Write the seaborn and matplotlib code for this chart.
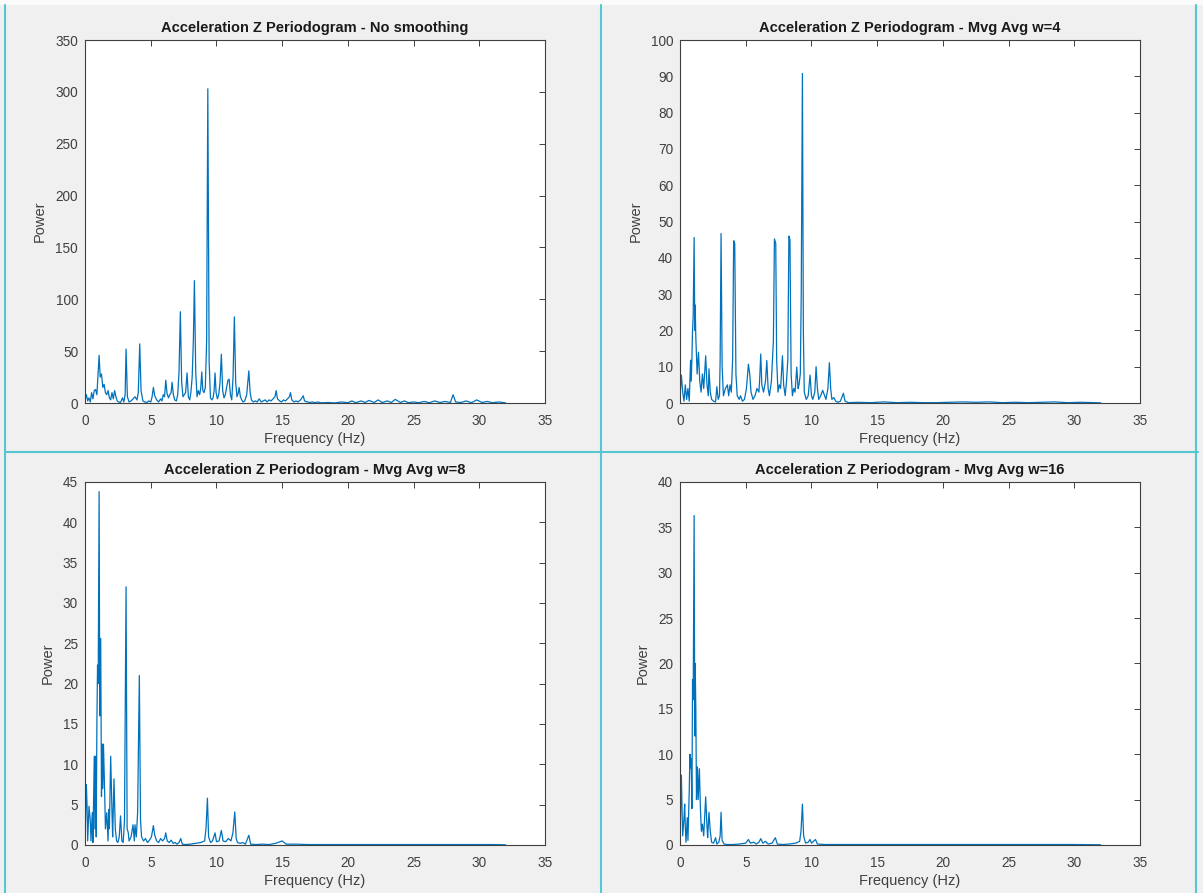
import numpy as np
import pandas as pd
import seaborn as sns
import matplotlib.pyplot as plt
from matplotlib.lines import Line2D
from matplotlib.patches import Rectangle

# Periodogram values (frequency in Hz, power)
freq_raw = [0.0, 0.1, 0.2, 0.3, 0.4, 0.5, 0.6, 0.7, 0.8, 0.9, 1.0, 1.07, 1.15, 1.25, 1.35, 1.45,
            1.55, 1.65, 1.75, 1.85, 1.95, 2.05, 2.15, 2.25, 2.35, 2.45, 2.55, 2.7, 2.85, 2.95,
            3.05, 3.12, 3.22, 3.35, 3.5, 3.65, 3.8, 3.95, 4.05, 4.16, 4.26, 4.4, 4.55, 4.7,
            4.85, 5.0, 5.1, 5.2, 5.3, 5.45, 5.6, 5.75, 5.85, 5.95, 6.05, 6.14, 6.24, 6.35,
            6.45, 6.55, 6.62, 6.72, 6.82, 6.95, 7.05, 7.15, 7.25, 7.35, 7.45, 7.55, 7.65,
            7.76, 7.86, 7.96, 8.05, 8.15, 8.24, 8.32, 8.42, 8.52, 8.62, 8.72, 8.8, 8.88,
            8.96, 9.05, 9.15, 9.25, 9.34, 9.44, 9.54, 9.64, 9.74, 9.82, 9.89, 9.97, 10.07,
            10.17, 10.27, 10.37, 10.47, 10.57, 10.67, 10.77, 10.87, 10.96, 11.06, 11.16,
            11.26, 11.36, 11.46, 11.56, 11.66, 11.72, 11.82, 11.92, 12.02, 12.15, 12.3,
            12.46, 12.56, 12.66, 12.8, 12.95, 13.1, 13.25, 13.4, 13.55, 13.7, 13.85, 14.0,
            14.15, 14.3, 14.45, 14.54, 14.64, 14.8, 14.95, 15.1, 15.25, 15.4, 15.55, 15.63,
            15.73, 15.9, 16.05, 16.2, 16.4, 16.6, 16.7, 16.9, 17.1, 17.3, 17.5, 17.7, 17.9,
            18.0, 18.5, 19.0, 19.5, 20.0, 20.3, 20.6, 21.0, 21.3, 21.6, 22.0, 22.3, 22.6,
            23.0, 23.3, 23.6, 24.0, 24.3, 24.6, 25.0, 25.4, 25.8, 26.2, 26.6, 27.0, 27.4,
            27.8, 28.0, 28.2, 28.6, 29.0, 29.4, 29.8, 30.2, 30.6, 31.0, 31.5, 32.0]
power_raw = [3, 8, 2, 5, 1, 10, 4, 12, 13, 8, 30, 46, 25, 28, 15, 18,
             10, 8, 12, 5, 3, 10, 4, 12, 6, 2, 1, 0.5, 5, 1,
             8, 52, 6, 1, 2, 4, 6, 3, 10, 57, 12, 2, 1, 0.5,
             2, 1, 6, 15, 7, 3, 1, 4, 2, 8, 6, 22, 9, 5,
             8, 10, 20, 8, 3, 2, 8, 30, 88, 20, 6, 8, 10,
             29, 6, 3, 10, 25, 60, 118, 30, 6, 12, 8, 14, 30,
             12, 10, 15, 60, 303, 40, 5, 3, 5, 12, 29, 10, 4,
             8, 20, 47, 12, 5, 8, 15, 22, 23, 8, 3,
             25, 83, 20, 6, 10, 15, 6, 3, 1, 2, 8,
             31, 10, 3, 1, 2, 1, 4, 1, 2, 3, 1, 3,
             2, 4, 6, 12, 4, 2, 1, 3, 2, 4, 6, 10,
             3, 1, 2, 1, 3, 7, 2, 1, 0.5, 1, 0.3, 1, 0.3,
             0.2, 0.5, 0.1, 1, 0.3, 2, 0.3, 2, 0.5, 2.5, 0.5, 3, 0.5,
             2, 0.5, 3.5, 0.5, 2, 0.3, 1, 0.3, 1.5, 0.3, 2, 0.5, 1.5,
             0.5, 8, 1, 0.5, 2, 0.3, 3, 0.5, 1.5, 0.3, 1, 0.1]

freq_w4 = [0.0, 0.1, 0.2, 0.3, 0.4, 0.5, 0.6, 0.7, 0.8, 0.85, 0.9, 0.95, 1.0, 1.07, 1.12, 1.15,
           1.2, 1.3, 1.4, 1.5, 1.6, 1.7, 1.8, 1.95, 2.05, 2.15, 2.2, 2.3, 2.4, 2.55, 2.7, 2.8,
           2.9, 3.0, 3.05, 3.12, 3.2, 3.3, 3.45, 3.6, 3.7, 3.8, 3.9, 4.0, 4.08, 4.16, 4.25,
           4.35, 4.5, 4.6, 4.75, 4.9, 5.05, 5.2, 5.3, 5.4, 5.55, 5.7, 5.85, 6.0, 6.05, 6.14,
           6.22, 6.35, 6.5, 6.6, 6.7, 6.8, 6.95, 7.1, 7.18, 7.28, 7.35, 7.45, 7.55, 7.65,
           7.79, 7.88, 8.0, 8.1, 8.2, 8.28, 8.36, 8.45, 8.55, 8.65, 8.75, 8.88, 8.98, 9.05,
           9.15, 9.22, 9.31, 9.38, 9.45, 9.6, 9.75, 9.89, 10.0, 10.1, 10.25, 10.35, 10.45,
           10.55, 10.7, 10.85, 11.0, 11.1, 11.25, 11.36, 11.46, 11.55, 11.7, 11.85, 12.0,
           12.2, 12.43, 12.55, 12.8, 13.5, 14.5, 15.5, 16.5, 17.5, 18.5, 19.5, 20.5, 21.5,
           22.5, 23.5, 24.5, 25.5, 26.5, 27.5, 28.5, 29.5, 30.5, 31.5, 32.0]
power_w4 = [2, 7.7, 3, 0.5, 5, 1, 4, 0.5, 11.8, 6, 12, 20, 24, 45.6, 20, 27,
            18, 8, 14, 6, 3, 8, 4, 13, 5, 2, 9.4, 3, 1, 0.5, 0.3, 4.5,
            1, 2, 12, 46.7, 10, 2, 4, 5, 2, 5, 3, 12, 44.7, 44, 8,
            2, 1, 2, 0.5, 1, 4, 10.7, 8, 3, 1, 2, 4, 3, 6, 13.5,
            5, 3, 6, 11.7, 4, 2, 6, 17, 45.2, 44, 12, 3, 5, 4,
            13, 5, 2, 6, 12, 46, 45, 8, 2, 4, 3, 9.9, 4, 5,
            8, 30, 90.8, 20, 3, 1, 2, 7.7, 2, 1, 3, 10, 4,
            1, 2, 3.5, 2, 1, 4, 11.1, 4, 1, 1.5, 0.5, 0.2,
            0.5, 2.7, 0.5, 0.1, 0.2, 0.1, 0.3, 0.1, 0.2, 0.1, 0.1, 0.2, 0.3,
            0.2, 0.3, 0.1, 0.2, 0.1, 0.2, 0.3, 0.1, 0.2, 0.1, 0.05]

freq_w8 = [0.0, 0.1, 0.15, 0.2, 0.3, 0.4, 0.45, 0.55, 0.6, 0.7, 0.75, 0.8, 0.85, 0.9, 0.95,
           1.0, 1.07, 1.12, 1.19, 1.25, 1.3, 1.35, 1.4, 1.5, 1.55, 1.65, 1.75, 1.8, 1.85,
           1.95, 2.05, 2.1, 2.2, 2.3, 2.4, 2.5, 2.6, 2.7, 2.8, 2.9, 3.0, 3.12, 3.2, 3.28,
           3.35, 3.5, 3.65, 3.75, 3.8, 3.9, 4.0, 4.13, 4.22, 4.3, 4.45, 4.6, 4.75, 4.9,
           5.05, 5.2, 5.3, 5.45, 5.6, 5.75, 5.9, 6.05, 6.14, 6.25, 6.4, 6.55, 6.7, 6.85,
           7.0, 7.15, 7.28, 7.4, 7.6, 8.0, 8.4, 8.8, 9.1, 9.2, 9.31, 9.4, 9.55, 9.7, 9.89,
           10.0, 10.2, 10.37, 10.5, 10.7, 10.9, 11.1, 11.25, 11.39, 11.5, 11.6, 11.8, 12.0,
           12.2, 12.46, 12.6, 13.0, 13.5, 14.0, 14.5, 15.0, 15.3, 16.0, 17.0, 18.0, 19.0,
           20.0, 21.0, 22.0, 23.0, 24.0, 25.0, 26.0, 27.0, 28.0, 29.0, 30.0, 31.0, 32.0]
power_w8 = [1, 7.5, 5, 0.5, 4.8, 3, 0.5, 4, 0.3, 11, 2, 11, 1, 15, 22.3,
            20, 43.8, 16, 25.6, 6, 12.5, 7, 12.5, 6, 2, 4, 0.5, 4.4, 2,
            11, 4, 1, 8.2, 2, 0.5, 0.3, 1, 3.6, 0.5, 0.3, 3, 32, 2, 1.6,
            0.5, 1, 2.5, 0.5, 2.5, 1, 4, 21, 3, 1, 0.5, 0.8, 0.3, 0.6,
            1, 2.4, 1.2, 0.5, 0.3, 0.8, 0.5, 0.8, 1.5, 0.5, 0.3, 0.6, 0.2, 0.3,
            0.1, 0.3, 0.8, 0.1, 0.05, 0.1, 0.2, 0.3, 0.5, 2, 5.8, 1, 0.3, 0.5, 1.5,
            0.4, 0.5, 1.8, 0.5, 0.4, 0.8, 0.5, 1.5, 4.1, 0.8, 0.3, 0.2, 0.3,
            0.1, 1.2, 0.1, 0.05, 0.1, 0.05, 0.2, 0.5, 0.1, 0.1, 0.05, 0.05, 0.05,
            0.05, 0.05, 0.05, 0.05, 0.05, 0.05, 0.05, 0.05, 0.05, 0.05, 0.05, 0.05, 0.02]

freq_w16 = [0.0, 0.1, 0.15, 0.2, 0.3, 0.35, 0.4, 0.45, 0.55, 0.6, 0.7, 0.75, 0.8, 0.85, 0.9,
            0.95, 1.0, 1.07, 1.12, 1.15, 1.2, 1.25, 1.32, 1.38, 1.47, 1.55, 1.62, 1.7, 1.8,
            1.95, 2.05, 2.1, 2.2, 2.3, 2.4, 2.55, 2.7, 2.8, 2.95, 3.05, 3.12, 3.2, 3.35, 3.6,
            4.0, 4.5, 5.0, 5.2, 5.35, 5.6, 5.8, 6.0, 6.14, 6.3, 6.5, 6.7, 7.0, 7.25, 7.4,
            7.8, 8.3, 8.8, 9.1, 9.2, 9.31, 9.4, 9.55, 9.75, 9.89, 10.0, 10.3, 10.45, 11.0,
            12.0, 14.0, 16.0, 18.0, 20.0, 22.0, 24.0, 26.0, 28.0, 30.0, 32.0]
power_w16 = [1, 7.7, 4, 1, 3, 4.5, 2, 0.3, 3, 0.5, 6, 10, 8.5, 9.5, 4,
             18.2, 16, 36.3, 12, 20, 15, 5, 8.6, 5, 8.4, 4, 1.5, 2.3, 1,
             5.3, 2, 0.8, 3.6, 1.5, 0.3, 0.2, 0.8, 0.1, 0.3, 1, 3.6, 0.5, 0.1, 0.05,
             0.05, 0.1, 0.2, 0.6, 0.2, 0.3, 0.1, 0.3, 0.7, 0.2, 0.4, 0.1, 0.2, 0.8, 0.1,
             0.05, 0.1, 0.2, 0.4, 1.5, 4.5, 1, 0.2, 0.3, 0.6, 0.2, 0.6, 0.1, 0.05,
             0.05, 0.05, 0.05, 0.05, 0.05, 0.05, 0.05, 0.05, 0.05, 0.05, 0.02]

titles = ['Acceleration Z Periodogram - No smoothing',
          'Acceleration Z Periodogram - Mvg Avg w=4',
          'Acceleration Z Periodogram - Mvg Avg w=8',
          'Acceleration Z Periodogram - Mvg Avg w=16']
y_max = [350, 100, 45, 40]
y_step = [50, 10, 5, 5]

sns.set_style('white')
plt.rcParams['font.family'] = ['Liberation Sans', 'DejaVu Sans']

line_color = '#0072BD'
axis_color = '#404040'
cyan = '#55c6d2'

fig = plt.figure(figsize=(12.03, 8.93), dpi=100, facecolor='#f0f0f0')

# axes boxes: [left, bottom, width, height] in figure fractions
positions = [[0.0707, 0.5487, 0.3824, 0.4065],
             [0.5653, 0.5487, 0.3824, 0.4065],
             [0.0707, 0.0538, 0.3824, 0.4065],
             [0.5653, 0.0538, 0.3824, 0.4065]]

series = [(freq_raw, power_raw), (freq_w4, power_w4), (freq_w8, power_w8), (freq_w16, power_w16)]

for i in range(4):
  ax = fig.add_axes(positions[i])
  ax.set_facecolor('white')
  df = pd.DataFrame({'Frequency': series[i][0], 'Power': series[i][1]})
  sns.lineplot(data=df, x='Frequency', y='Power', ax=ax, color=line_color, linewidth=0.9)
  ax.set_xlim(0, 35)
  ax.set_ylim(0, y_max[i])
  ax.set_xticks(np.arange(0, 36, 5))
  ax.set_yticks(np.arange(0, y_max[i] + 1, y_step[i]))
  ax.tick_params(direction='in', length=4, width=0.7, colors=axis_color,
                 labelsize=9.8, top=True, right=True)
  ax.tick_params(axis='x', pad=8)
  ax.tick_params(axis='y', pad=5)
  for s in ax.spines.values():
    s.set_color(axis_color)
    s.set_linewidth(0.8)
  ax.set_title(titles[i], fontsize=10.5, fontweight='bold', color='#1a1a1a', pad=6)
  ax.set_xlabel('Frequency (Hz)', fontsize=10.5, color=axis_color, labelpad=3)
  ax.set_ylabel('Power', fontsize=10.5, color=axis_color, labelpad=6)

# top white strip and cyan panel separators like the MATLAB window
fig.add_artist(Rectangle((0, 0.9944), 1, 0.0056, transform=fig.transFigure,
                         facecolor='#fbfbfb', edgecolor='none'))
fig.add_artist(Line2D([0.4996, 0.4996], [0, 0.9944], transform=fig.transFigure, color=cyan, lw=1.5))
fig.add_artist(Line2D([0.0045, 0.9955], [0.4938, 0.4938], transform=fig.transFigure, color=cyan, lw=1.5))
fig.add_artist(Line2D([0.0045, 0.0045], [0, 0.9944], transform=fig.transFigure, color=cyan, lw=1.5))
fig.add_artist(Line2D([0.9945, 0.9945], [0, 0.9944], transform=fig.transFigure, color=cyan, lw=1.5))

plt.savefig('out.png', dpi=100, facecolor=fig.get_facecolor())
